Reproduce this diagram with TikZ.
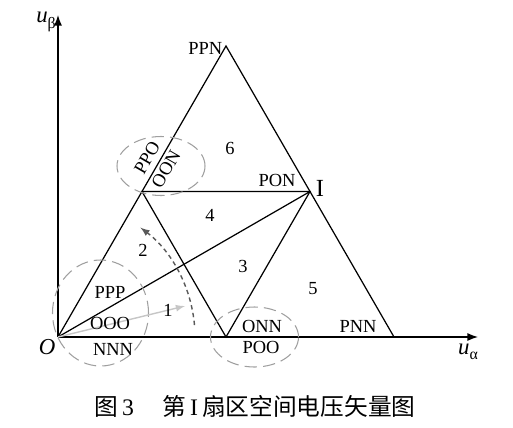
\documentclass[tikz,border=0pt]{standalone}
\usepackage{fontspec}
\setmainfont{Liberation Serif}
\newfontfamily\cjkfont{Noto Sans CJK SC}
\usepackage{tikz}
\usetikzlibrary{arrows,arrows.meta,positioning}

\tikzset{
  edge/.style={line width=0.7pt},
  axis/.style={line width=0.7pt,-{Latex[length=6pt,width=4.5pt]}},
  ring/.style={gray!75,line width=0.6pt,dash pattern=on 7pt off 3.5pt},
  lbl/.style={font=\fontsize{10.5}{12}\selectfont,inner sep=0pt},
  axlbl/.style={font=\fontsize{13}{15}\selectfont,inner sep=0pt},
}

\begin{document}
\begin{tikzpicture}[x=0.02cm,y=0.02cm] %[scale=1.2, every node/.style={scale=1.2}]
\useasboundingbox (-58,-90) rectangle (455,337);
\coordinate (O) at (0,0);
\coordinate (POO) at (168,0);
\coordinate (PPO) at (84,145.5);
\coordinate (PPN) at (168,291);
\coordinate (PON) at (252,145.5);
\coordinate (PNN) at (336,0);
\coordinate (ualpha) at (420,0);
\coordinate (ubeta) at (0,322);
\draw[axis] (O)--(ualpha);
\draw[axis] (O)--(ubeta);
\draw[edge] (O)--(PPN)--(PNN);
\draw[edge] (PPO)--(PON)--(POO)--cycle;
\draw[edge] (O)--(PON);
\draw[ring] (42.5,24) ellipse [x radius=48,y radius=53];
\draw[ring] (196.5,0) ellipse [x radius=44,y radius=30];
\draw[ring] (103,171) ellipse [x radius=44,y radius=29.5];
\draw[gray!45,line width=0.8pt,-latex] (O)--(127,31);
\draw[gray!70!black,line width=0.8pt,dash pattern=on 2.5pt off 2pt,-latex]
  (5:137) arc [start angle=5,end angle=53,radius=137];
\node[axlbl] at (-12,315) {\textit{u}\raisebox{-0.5ex}{\fontsize{9}{10}\selectfont β}};
\node[axlbl] at (410,-15) {\textit{u}\raisebox{-0.5ex}{\fontsize{9}{10}\selectfont α}};
\node[axlbl] at (-11,-10) {\textit{O}};
\node[lbl,left=2pt,yshift=-1.5pt] at (PPN) {PPN};
\node[lbl] at (219,157) {PON};
\node[lbl,font=\fontsize{14}{16}\selectfont] at (262,149) {I};
\node[lbl] at (172,189) {6};
\node[lbl] at (152,122) {4};
\node[lbl] at (85,87) {2};
\node[lbl] at (185,71) {3};
\node[lbl] at (255,48) {5};
\node[lbl] at (110,27) {1};
\node[lbl] at (52,45) {PPP};
\node[lbl] at (52,14) {OOO};
\node[lbl] at (55,-12) {NNN};
\node[lbl] at (204,11) {ONN};
\node[lbl] at (203,-10) {POO};
\node[lbl] at (300,11) {PNN};
\node[lbl,rotate=60] at (89,179) {PPO};
\node[lbl,rotate=60] at (108,168) {OON};
\node[font=\fontsize{13.5}{15}\selectfont] at (197,-69)
  {{\cjkfont 图}\,3\hspace{1.2em}{\cjkfont 第}\,I\,{\cjkfont 扇区空间电压矢量图}};
\end{tikzpicture}
\end{document}
